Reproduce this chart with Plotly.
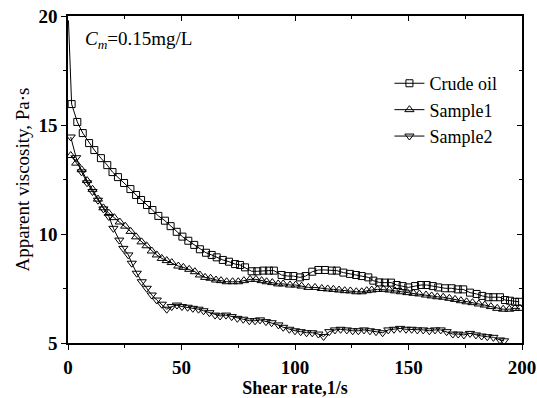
import plotly.graph_objects as go

# ---- data ----
crude_x = [0.2, 1.6, 4.1, 6.5, 9.3, 11.6, 14.5, 17.3, 19.6, 22.0, 24.7, 27.5, 30.0, 32.2, 34.8, 37.2,
           39.8, 42.7, 45.2, 47.9, 50.4, 53.0, 55.6, 58.1, 60.8, 63.3, 65.5, 68.2, 70.9, 73.6, 75.8,
           78.0, 80.9, 83.4, 86.0, 88.5, 90.7, 94.1, 96.8, 99.3, 102.2, 104.7, 107.6, 110.3, 113.2,
           116.2, 118.4, 121.3, 124.2, 126.9, 129.4, 132.3, 134.5, 137.1, 139.6, 142.3, 144.8, 147.4,
           149.9, 152.9, 155.5, 158.0, 160.7, 163.1, 166.1, 169.0, 171.7, 174.1, 177.1, 180.0, 182.5,
           185.2, 187.4, 190.3, 192.5, 194.7, 196.9, 198.8]
crude_y = [19.8, 15.96, 15.14, 14.63, 14.17, 13.85, 13.48, 13.16, 12.84, 12.61, 12.34, 12.06, 11.79,
           11.56, 11.33, 11.1, 10.83, 10.61, 10.36, 10.1, 9.88, 9.69, 9.5, 9.3, 9.14, 9.04, 8.93, 8.81,
           8.73, 8.62, 8.58, 8.47, 8.29, 8.29, 8.32, 8.32, 8.32, 8.12, 8.07, 8.07, 8.01, 8.07, 8.27,
           8.35, 8.35, 8.32, 8.32, 8.23, 8.17, 8.12, 8.07, 8.01, 7.86, 7.78, 7.77, 7.77, 7.66, 7.61,
           7.55, 7.61, 7.66, 7.66, 7.61, 7.55, 7.51, 7.51, 7.46, 7.46, 7.31, 7.25, 7.16, 7.1, 7.1, 7.1,
           6.97, 6.94, 6.89, 6.89]

s1_x = [1.2, 3.6, 6.0, 8.4, 10.8, 13.2, 15.6, 18.0, 20.4, 22.8, 25.2, 27.6, 30.0, 32.4, 34.6, 36.9,
        39.1, 41.3, 43.5, 45.7, 48.6, 50.8, 53.4, 55.9, 58.1, 60.4, 62.8, 65.2, 67.4, 69.9, 72.5,
        75.0, 77.5, 80.2, 82.8, 85.3, 87.5, 90.0, 92.6, 94.8, 97.8, 100.3, 102.9, 105.9, 108.8, 111.8,
        114.4, 116.9, 119.4, 121.9, 124.4, 127.0, 129.4, 131.6, 133.8, 136.3, 139.0, 141.6, 144.1,
        146.7, 149.5, 152.2, 154.8, 157.7, 160.2, 162.7, 165.3, 168.0, 170.5, 173.1, 175.6, 178.2,
        181.0, 183.6, 186.3, 189.1, 191.7, 194.4, 196.9, 199.1]
s1_y = [13.6, 13.25, 12.95, 12.45, 12.05, 11.6, 11.2, 10.95, 10.75, 10.55, 10.36, 10.12, 9.87, 9.64,
        9.46, 9.22, 9.04, 8.88, 8.78, 8.69, 8.53, 8.47, 8.38, 8.27, 8.12, 8.01, 7.97, 7.89, 7.86, 7.81,
        7.81, 7.81, 7.86, 7.92, 7.92, 7.86, 7.81, 7.77, 7.71, 7.71, 7.66, 7.66, 7.61, 7.55, 7.55, 7.5,
        7.48, 7.46, 7.43, 7.4, 7.39, 7.35, 7.35, 7.4, 7.43, 7.46, 7.46, 7.43, 7.39, 7.35, 7.31, 7.28,
        7.25, 7.2, 7.16, 7.12, 7.1, 7.05, 7.0, 6.94, 6.89, 6.85, 6.79, 6.74, 6.67, 6.59, 6.55, 6.55,
        6.59, 6.59]

s2_x = [1.2, 3.6, 6.0, 8.4, 10.8, 13.2, 15.6, 18.0, 20.0, 22.6, 24.4, 26.6, 28.1, 30.3, 32.5, 34.7,
        36.9, 39.1, 41.3, 43.5, 45.7, 48.0, 50.2, 52.7, 55.0, 57.5, 59.7, 62.3, 64.8, 67.0, 69.6,
        72.1, 74.6, 77.2, 79.9, 82.4, 84.6, 87.2, 89.7, 92.7, 94.8, 97.5, 100.0, 102.5, 105.1, 107.6,
        110.3, 112.6, 115.1, 117.6, 120.1, 122.8, 125.4, 127.9, 130.4, 133.0, 135.7, 138.6, 141.1,
        143.6, 146.3, 148.9, 151.4, 153.9, 156.5, 159.2, 161.7, 164.2, 166.8, 169.5, 171.9, 174.4,
        177.1, 179.7, 182.2, 184.7, 187.4, 190.3, 192.1]
s2_y = [14.45, 13.5, 12.85, 12.35, 11.95, 11.55, 11.15, 10.8, 10.26, 9.72, 9.34, 9.04, 8.66, 8.2,
        7.81, 7.51, 7.2, 6.97, 6.78, 6.55, 6.67, 6.74, 6.67, 6.64, 6.59, 6.55, 6.48, 6.39, 6.28, 6.24,
        6.28, 6.21, 6.13, 6.09, 6.02, 6.02, 6.06, 5.98, 5.93, 5.83, 5.72, 5.63, 5.56, 5.52, 5.47,
        5.47, 5.41, 5.3, 5.52, 5.6, 5.63, 5.6, 5.56, 5.56, 5.6, 5.56, 5.52, 5.47, 5.6, 5.63, 5.67,
        5.63, 5.63, 5.6, 5.6, 5.56, 5.6, 5.6, 5.52, 5.41, 5.41, 5.37, 5.44, 5.37, 5.32, 5.29, 5.26,
        5.14, 5.1]

series_names = ["Crude oil", "Sample1", "Sample2"]
x_ticks = [0, 50, 100, 150, 200]
x_minor = [25, 75, 125, 175]
y_ticks = [5, 10, 15, 20]
y_minor = [7.5, 12.5, 17.5]
annotation_text = "<i>C</i><sub><i>m</i></sub>=0.15mg/L"
x_title = "Shear rate,1/s"
y_title = "Apparent viscosity, Pa·s"

FONT = "Liberation Serif"
BLACK = "#000000"

fig = go.Figure()
# initial spike of the crude-oil curve (first reading, drawn as line only)
fig.add_trace(go.Scatter(
    x=crude_x[:2], y=crude_y[:2], mode="lines", showlegend=False, hoverinfo="skip",
    line=dict(color=BLACK, width=1),
))
fig.add_trace(go.Scatter(
    x=crude_x[1:], y=crude_y[1:], name=series_names[0], mode="lines+markers",
    line=dict(color=BLACK, width=1),
    marker=dict(symbol="square-open", size=7, color=BLACK, line=dict(width=1)),
))
fig.add_trace(go.Scatter(
    x=s1_x, y=s1_y, name=series_names[1], mode="lines+markers",
    line=dict(color=BLACK, width=1),
    marker=dict(symbol="triangle-up-open", size=8, color=BLACK, line=dict(width=1)),
))
fig.add_trace(go.Scatter(
    x=s2_x, y=s2_y, name=series_names[2], mode="lines+markers",
    line=dict(color=BLACK, width=1),
    marker=dict(symbol="triangle-down-open", size=8, color=BLACK, line=dict(width=1)),
))
# empty trace to materialise the mirrored (top/right) axes with inward ticks
fig.add_trace(go.Scatter(x=[], y=[], xaxis="x2", yaxis="y2", showlegend=False, hoverinfo="skip"))

axis_common = dict(
    showgrid=False, zeroline=False, showline=True, linecolor=BLACK, linewidth=1.5,
    ticks="outside", ticklen=5, tickwidth=1.2, tickcolor=BLACK, automargin=False,
    tickfont=dict(family=FONT, size=19, color=BLACK, weight="bold"),
)
mirror_common = dict(
    showticklabels=False, showgrid=False, zeroline=False, showline=True, automargin=False,
    linecolor=BLACK, linewidth=1.5, ticks="inside", ticklen=5, tickwidth=1.2, tickcolor=BLACK,
)

fig.update_layout(
    width=537, height=398,
    margin=dict(l=68, r=15, t=16, b=55),
    paper_bgcolor="white", plot_bgcolor="white",
    font=dict(family=FONT, color=BLACK, size=18),
    xaxis=dict(
        range=[0, 200], tickvals=x_ticks, ticktext=[str(v) for v in x_ticks],
        minor=dict(tickvals=x_minor, ticks="outside", ticklen=3, tickcolor=BLACK),
        ticklabelstandoff=1,
        title=dict(text=x_title, font=dict(family=FONT, size=18, color=BLACK, weight="bold"), standoff=4),
        **axis_common,
    ),
    yaxis=dict(
        range=[5, 20], tickvals=y_ticks, ticktext=[str(v) for v in y_ticks],
        minor=dict(tickvals=y_minor, ticks="outside", ticklen=3, tickcolor=BLACK),
        title=dict(text=y_title, font=dict(family=FONT, size=19, color=BLACK), standoff=4),
        **axis_common,
    ),
    xaxis2=dict(
        overlaying="x", side="top", range=[0, 200], tickvals=x_ticks,
        minor=dict(tickvals=x_minor, ticks="inside", ticklen=3, tickcolor=BLACK),
        **mirror_common,
    ),
    yaxis2=dict(
        overlaying="y", side="right", range=[5, 20], tickvals=y_ticks,
        minor=dict(tickvals=y_minor, ticks="inside", ticklen=3, tickcolor=BLACK),
        **mirror_common,
    ),
    legend=dict(
        x=0.708, y=0.85, xanchor="left", yanchor="top",
        bgcolor="rgba(0,0,0,0)", borderwidth=0,
        font=dict(family=FONT, size=18, color=BLACK),
        tracegroupgap=0,
    ),
    showlegend=True,
    annotations=[dict(
        x=6.8, y=18.9, xref="x", yref="y", xanchor="left", yanchor="middle",
        text=annotation_text, showarrow=False,
        font=dict(family=FONT, size=19, color=BLACK),
    )],
)

fig.write_html("out.html")
